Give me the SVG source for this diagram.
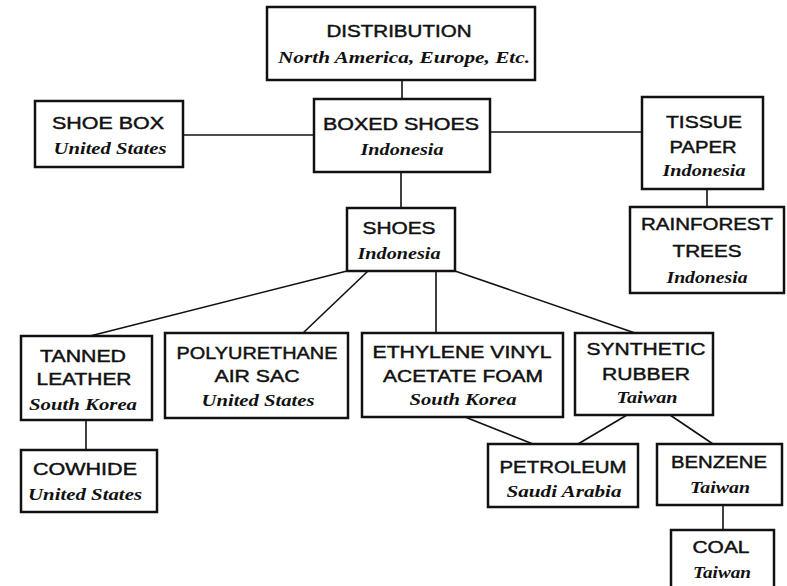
<svg xmlns="http://www.w3.org/2000/svg" width="787" height="586" viewBox="0 0 787 586">
<style>
.box{fill:#fff;stroke:#111;stroke-width:2.5}
.h{font-family:"Liberation Sans",Arial,sans-serif;font-size:17px;fill:#111;stroke:#111;stroke-width:0.45;text-anchor:middle}
.s{font-family:"Liberation Serif","Times New Roman",serif;font-size:17px;font-style:italic;font-weight:bold;fill:#111;text-anchor:middle}
.c line{stroke:#111;stroke-width:1.6}
</style>
<rect width="787" height="586" fill="#fff"/>
<g class="c" id="connectors">
<line x1="402" y1="80" x2="402" y2="99"/>
<line x1="183" y1="135" x2="314" y2="135"/>
<line x1="490" y1="132" x2="642" y2="132"/>
<line x1="707" y1="189" x2="707" y2="207"/>
<line x1="401" y1="172" x2="401" y2="208"/>
<line x1="347" y1="271" x2="90" y2="336"/>
<line x1="368" y1="271" x2="303" y2="333"/>
<line x1="436" y1="271" x2="436" y2="333"/>
<line x1="455" y1="271" x2="635" y2="333"/>
<line x1="86" y1="420" x2="86" y2="450"/>
<line x1="465" y1="417" x2="533" y2="444"/>
<line x1="627" y1="415" x2="578" y2="444"/>
<line x1="670" y1="415" x2="713" y2="444"/>
<line x1="723" y1="505" x2="723" y2="530"/>
</g>
<g id="distribution">
<rect class="box" x="267" y="7" width="268" height="73"/>
<text class="h" x="399" y="37" textLength="145" lengthAdjust="spacingAndGlyphs">DISTRIBUTION</text>
<text class="s" x="404" y="63" textLength="252" lengthAdjust="spacingAndGlyphs">North America, Europe, Etc.</text>
</g>
<g id="boxed-shoes">
<rect class="box" x="314" y="99" width="176" height="73"/>
<text class="h" x="401" y="130" textLength="156" lengthAdjust="spacingAndGlyphs">BOXED SHOES</text>
<text class="s" x="402" y="155" textLength="83" lengthAdjust="spacingAndGlyphs">Indonesia</text>
</g>
<g id="shoe-box">
<rect class="box" x="35" y="101" width="148" height="66"/>
<text class="h" x="108" y="129" textLength="112" lengthAdjust="spacingAndGlyphs">SHOE BOX</text>
<text class="s" x="110" y="154" textLength="113" lengthAdjust="spacingAndGlyphs">United States</text>
</g>
<g id="tissue-paper">
<rect class="box" x="642" y="97" width="121" height="92"/>
<text class="h" x="704" y="128" textLength="76" lengthAdjust="spacingAndGlyphs">TISSUE</text>
<text class="h" x="703" y="153" textLength="67" lengthAdjust="spacingAndGlyphs">PAPER</text>
<text class="s" x="704" y="176" textLength="83" lengthAdjust="spacingAndGlyphs">Indonesia</text>
</g>
<g id="rainforest-trees">
<rect class="box" x="630" y="207" width="154" height="86"/>
<text class="h" x="707" y="230" textLength="132" lengthAdjust="spacingAndGlyphs">RAINFOREST</text>
<text class="h" x="707" y="257" textLength="69" lengthAdjust="spacingAndGlyphs">TREES</text>
<text class="s" x="707" y="283" textLength="81" lengthAdjust="spacingAndGlyphs">Indonesia</text>
</g>
<g id="shoes">
<rect class="box" x="347" y="208" width="108" height="63"/>
<text class="h" x="399" y="234" textLength="73" lengthAdjust="spacingAndGlyphs">SHOES</text>
<text class="s" x="399" y="259" textLength="83" lengthAdjust="spacingAndGlyphs">Indonesia</text>
</g>
<g id="tanned-leather">
<rect class="box" x="21" y="336" width="131" height="84"/>
<text class="h" x="83" y="362" textLength="86" lengthAdjust="spacingAndGlyphs">TANNED</text>
<text class="h" x="84" y="385" textLength="95" lengthAdjust="spacingAndGlyphs">LEATHER</text>
<text class="s" x="83" y="410" textLength="108" lengthAdjust="spacingAndGlyphs">South Korea</text>
</g>
<g id="polyurethane">
<rect class="box" x="165" y="333" width="183" height="85"/>
<text class="h" x="257" y="359" textLength="161" lengthAdjust="spacingAndGlyphs">POLYURETHANE</text>
<text class="h" x="257" y="382" textLength="85" lengthAdjust="spacingAndGlyphs">AIR SAC</text>
<text class="s" x="258" y="406" textLength="113" lengthAdjust="spacingAndGlyphs">United States</text>
</g>
<g id="eva-foam">
<rect class="box" x="362" y="333" width="201" height="84"/>
<text class="h" x="462" y="358" textLength="179" lengthAdjust="spacingAndGlyphs">ETHYLENE VINYL</text>
<text class="h" x="463" y="382" textLength="160" lengthAdjust="spacingAndGlyphs">ACETATE FOAM</text>
<text class="s" x="463" y="405" textLength="107" lengthAdjust="spacingAndGlyphs">South Korea</text>
</g>
<g id="synthetic-rubber">
<rect class="box" x="575" y="333" width="138" height="82"/>
<text class="h" x="646" y="355" textLength="119" lengthAdjust="spacingAndGlyphs">SYNTHETIC</text>
<text class="h" x="646" y="380" textLength="88" lengthAdjust="spacingAndGlyphs">RUBBER</text>
<text class="s" x="647" y="403" textLength="61" lengthAdjust="spacingAndGlyphs">Taiwan</text>
</g>
<g id="cowhide">
<rect class="box" x="21" y="450" width="136" height="62"/>
<text class="h" x="85" y="475" textLength="104" lengthAdjust="spacingAndGlyphs">COWHIDE</text>
<text class="s" x="85" y="500" textLength="114" lengthAdjust="spacingAndGlyphs">United States</text>
</g>
<g id="petroleum">
<rect class="box" x="488" y="444" width="150" height="63"/>
<text class="h" x="563" y="473" textLength="127" lengthAdjust="spacingAndGlyphs">PETROLEUM</text>
<text class="s" x="564" y="497" textLength="115" lengthAdjust="spacingAndGlyphs">Saudi Arabia</text>
</g>
<g id="benzene">
<rect class="box" x="657" y="444" width="125" height="61"/>
<text class="h" x="719" y="468" textLength="96" lengthAdjust="spacingAndGlyphs">BENZENE</text>
<text class="s" x="720" y="493" textLength="60" lengthAdjust="spacingAndGlyphs">Taiwan</text>
</g>
<g id="coal">
<rect class="box" x="671" y="530" width="103" height="62"/>
<text class="h" x="721" y="553" textLength="57" lengthAdjust="spacingAndGlyphs">COAL</text>
<text class="s" x="722" y="578" textLength="58" lengthAdjust="spacingAndGlyphs">Taiwan</text>
</g>
</svg>
